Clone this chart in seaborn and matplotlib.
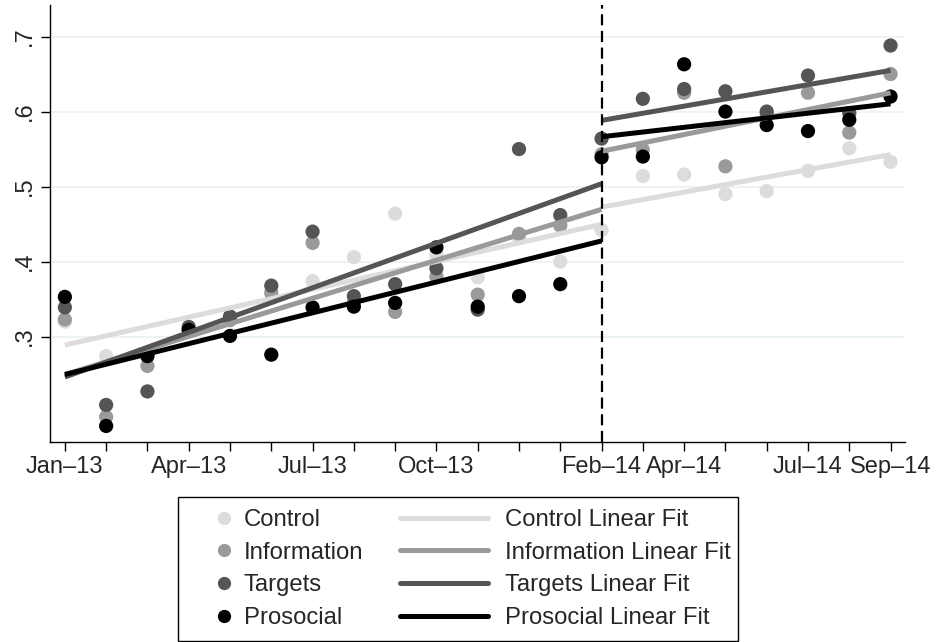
import pandas as pd
import seaborn as sns
import matplotlib.pyplot as plt
from matplotlib.lines import Line2D
from matplotlib.patches import Rectangle

# --- data (monthly shares, Jan-13 .. Sep-14) ---
months = ["Jan\u201313", "", "", "Apr\u201313", "", "", "Jul\u201313", "", "",
          "Oct\u201313", "", "", "", "Feb\u201314", "", "Apr\u201314", "", "",
          "Jul\u201314", "", "Sep\u201314"]
control = [0.320, 0.274, 0.275, 0.310, 0.325, 0.360, 0.374, 0.406, 0.464, 0.409, 0.379,
           0.432, 0.400, 0.442, 0.514, 0.516, 0.490, 0.494, 0.521, 0.551, 0.533]
information = [0.323, 0.193, 0.261, 0.310, 0.322, 0.358, 0.425, 0.345, 0.333, 0.380, 0.356,
               0.437, 0.448, 0.543, 0.549, 0.625, 0.527, 0.597, 0.625, 0.572, 0.650]
targets = [0.339, 0.209, 0.227, 0.313, 0.327, 0.368, 0.440, 0.354, 0.370, 0.391, 0.336,
           0.550, 0.462, 0.564, 0.617, 0.630, 0.627, 0.600, 0.648, 0.598, 0.688]
prosocial = [0.353, 0.181, 0.274, 0.309, 0.301, 0.276, 0.339, 0.340, 0.345, 0.419, 0.340,
             0.354, 0.370, 0.539, 0.540, 0.663, 0.600, 0.582, 0.574, 0.589, 0.620]
groups = ["Control", "Information", "Targets", "Prosocial"]
colors = ["#dcdcdc", "#9a9a9a", "#555555", "#000000"]
break_month = 13  # Feb-14, start of treatment period

rows = []
for g, vals in zip(groups, [control, information, targets, prosocial]):
    for m, v in enumerate(vals):
        rows.append({"month": m, "share": v, "group": g})
df = pd.DataFrame(rows)

sns.set_style("ticks")
plt.rcParams['font.family'] = ['Liberation Sans', 'DejaVu Sans']

fig = plt.figure(figsize=(9.37, 6.42), dpi=100)
ax = fig.add_axes([50 / 937, 1 - 441.7 / 642, 855 / 937, 436.7 / 642])

for y in [0.3, 0.4, 0.5, 0.6, 0.7]:
    ax.axhline(y, color="#eaf2f3", lw=1.3, zorder=0)

sns.scatterplot(data=df, x="month", y="share", hue="group", palette=colors,
                hue_order=groups, s=105, linewidth=0, legend=False, ax=ax, zorder=2)

# linear fits, before and after the break (Feb-14 belongs to both)
for g, c in zip(groups, colors):
    sub = df[df.group == g]
    pre = sub[sub.month <= break_month]
    post = sub[sub.month >= break_month]
    for part in (pre, post):
        sns.regplot(data=part, x="month", y="share", scatter=False, ci=None, ax=ax,
                    line_kws={"color": c, "lw": 3.6, "zorder": 3, "solid_capstyle": "butt"})

ax.axvline(break_month, color="black", lw=1.6, linestyle=(0, (5, 2.5)), zorder=4)

ax.set_xlim(-0.36, 20.35)
ax.set_ylim(0.16, 0.742)
ax.set_xticks(range(len(months)))
ax.set_xticklabels(months, fontsize=17)
ax.set_yticks([0.3, 0.4, 0.5, 0.6, 0.7])
ax.set_yticklabels([".3", ".4", ".5", ".6", ".7"], fontsize=17, rotation=90, va="center")
ax.tick_params(length=6.5, width=1, color="black", pad=4)
ax.set_xlabel("")
ax.set_ylabel("")
for side in ["top", "right"]:
    ax.spines[side].set_visible(False)
for side in ["left", "bottom"]:
    ax.spines[side].set_color("black")
    ax.spines[side].set_linewidth(1)

# legend: markers on the left, fit lines on the right, one black box around both
marker_handles = [Line2D([], [], marker="o", ls="", color=c, markersize=8.5) for c in colors]
line_handles = [Line2D([], [], color=c, lw=3.6) for c in colors]
fig.patches.append(Rectangle((178 / 937, 1 - 641 / 642), 560 / 937, 144 / 642,
                             transform=fig.transFigure, fill=False, edgecolor="black",
                             lw=1, zorder=5))
leg1 = fig.legend(marker_handles, groups, loc="upper left",
                  bbox_to_anchor=(214 / 937, 1 - 509 / 642), frameon=False,
                  fontsize=17.2, handlelength=0.8, handletextpad=0.45,
                  labelspacing=0.45, borderpad=0, borderaxespad=0)
leg2 = fig.legend(line_handles, [g + " Linear Fit" for g in groups], loc="upper left",
                  bbox_to_anchor=(400 / 937, 1 - 509 / 642), frameon=False,
                  fontsize=17.2, handlelength=3.7, handletextpad=0.7,
                  labelspacing=0.45, borderpad=0, borderaxespad=0)

fig.savefig("out.png", dpi=100)
